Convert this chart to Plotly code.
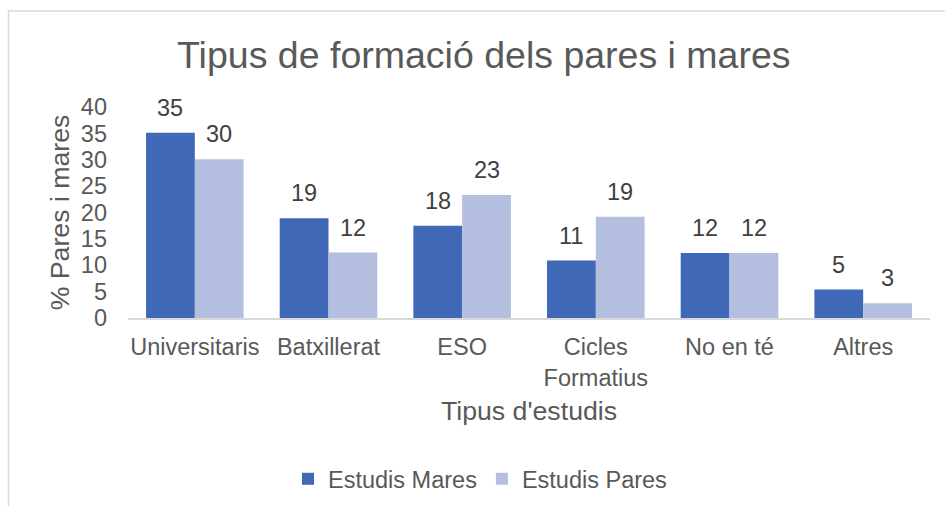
import plotly.graph_objects as go

categories = ["Universitaris", "Batxillerat", "ESO", "Cicles Formatius", "No en té", "Altres"]
tick_labels = ["Universitaris", "Batxillerat", "ESO", "Cicles<br>Formatius", "No en té", "Altres"]
mares = [35.1, 18.9, 17.5, 10.9, 12.3, 5.4]
pares = [30.1, 12.4, 23.3, 19.2, 12.3, 2.8]
series_names = ["Estudis Mares", "Estudis Pares"]

FONT = "Liberation Sans, Arial, sans-serif"
GREY = "#595959"
C_MARES = "#3F68B6"
C_PARES = "#B4BFE0"

fig = go.Figure()
fig.add_trace(go.Bar(x=categories, y=mares, name=series_names[0], marker_color=C_MARES,
                     marker_line_width=0, hoverinfo="x+y"))
fig.add_trace(go.Bar(x=categories, y=pares, name=series_names[1], marker_color=C_PARES,
                     marker_line_width=0, hoverinfo="x+y"))

# data labels above each bar
bar_px = 802 / 6 * (1 - 0.27) / 2
for vals, shift in ((mares, -bar_px / 2), (pares, bar_px / 2)):
    for c, v in zip(categories, vals):
        fig.add_annotation(x=c, y=v, text=f"{round(v):d}", showarrow=False,
                           xshift=shift, yshift=10, yanchor="bottom",
                           font=dict(family=FONT, size=23.5, color="#404040"))

fig.update_layout(
    width=945, height=506,
    margin=dict(l=128, r=15, t=107, b=188, autoexpand=False),
    paper_bgcolor="white", plot_bgcolor="white",
    barmode="group", bargap=0.27, bargroupgap=0,
    title=dict(text="Tipus de formació dels pares i mares", x=0.512, xanchor="center",
               xref="container", y=1 - 55 / 506, yanchor="middle", yref="container",
               font=dict(family=FONT, size=37.5, color=GREY)),
    font=dict(family=FONT, size=23.5, color=GREY),
    legend=dict(orientation="h", x=(480 - 128) / 802, xanchor="center",
                y=1 - 479 / 506, yanchor="middle", yref="container",
                font=dict(family=FONT, size=23.5, color=GREY), itemwidth=30,
                traceorder="normal", bgcolor="rgba(0,0,0,0)"),
    showlegend=True,
)
fig.update_xaxes(
    tickvals=categories, ticktext=tick_labels, showgrid=False, showline=True,
    linecolor="#D9D9D9", linewidth=1.5, ticks="", zeroline=False, automargin=False,
    tickfont=dict(family=FONT, size=23.5, color=GREY), ticklabelstandoff=7,
    title=dict(text="Tipus d'estudis", font=dict(family=FONT, size=26.7, color=GREY), standoff=12),
)
fig.update_yaxes(
    range=[0, 40], dtick=5, showgrid=False, showline=False, zeroline=False, ticks="",
    automargin=False,
    tickfont=dict(family=FONT, size=23.5, color=GREY), ticklabelstandoff=20,
    title=dict(text="% Pares i mares", font=dict(family=FONT, size=26.7, color=GREY), standoff=3),
)

# chart area border (extends past the right/bottom edges of the picture)
fig.add_shape(type="rect", xref="paper", yref="paper",
              x0=(8.5 - 128) / 802, x1=(960 - 128) / 802,
              y0=(318 - 520) / 211, y1=(318 - 11) / 211,
              line=dict(color="#D9D9D9", width=1.5), fillcolor="rgba(0,0,0,0)", layer="below")

fig.write_html("out.html", config={"displayModeBar": False},
               post_script="document.body.style.margin='0';document.body.style.overflow='hidden';")
